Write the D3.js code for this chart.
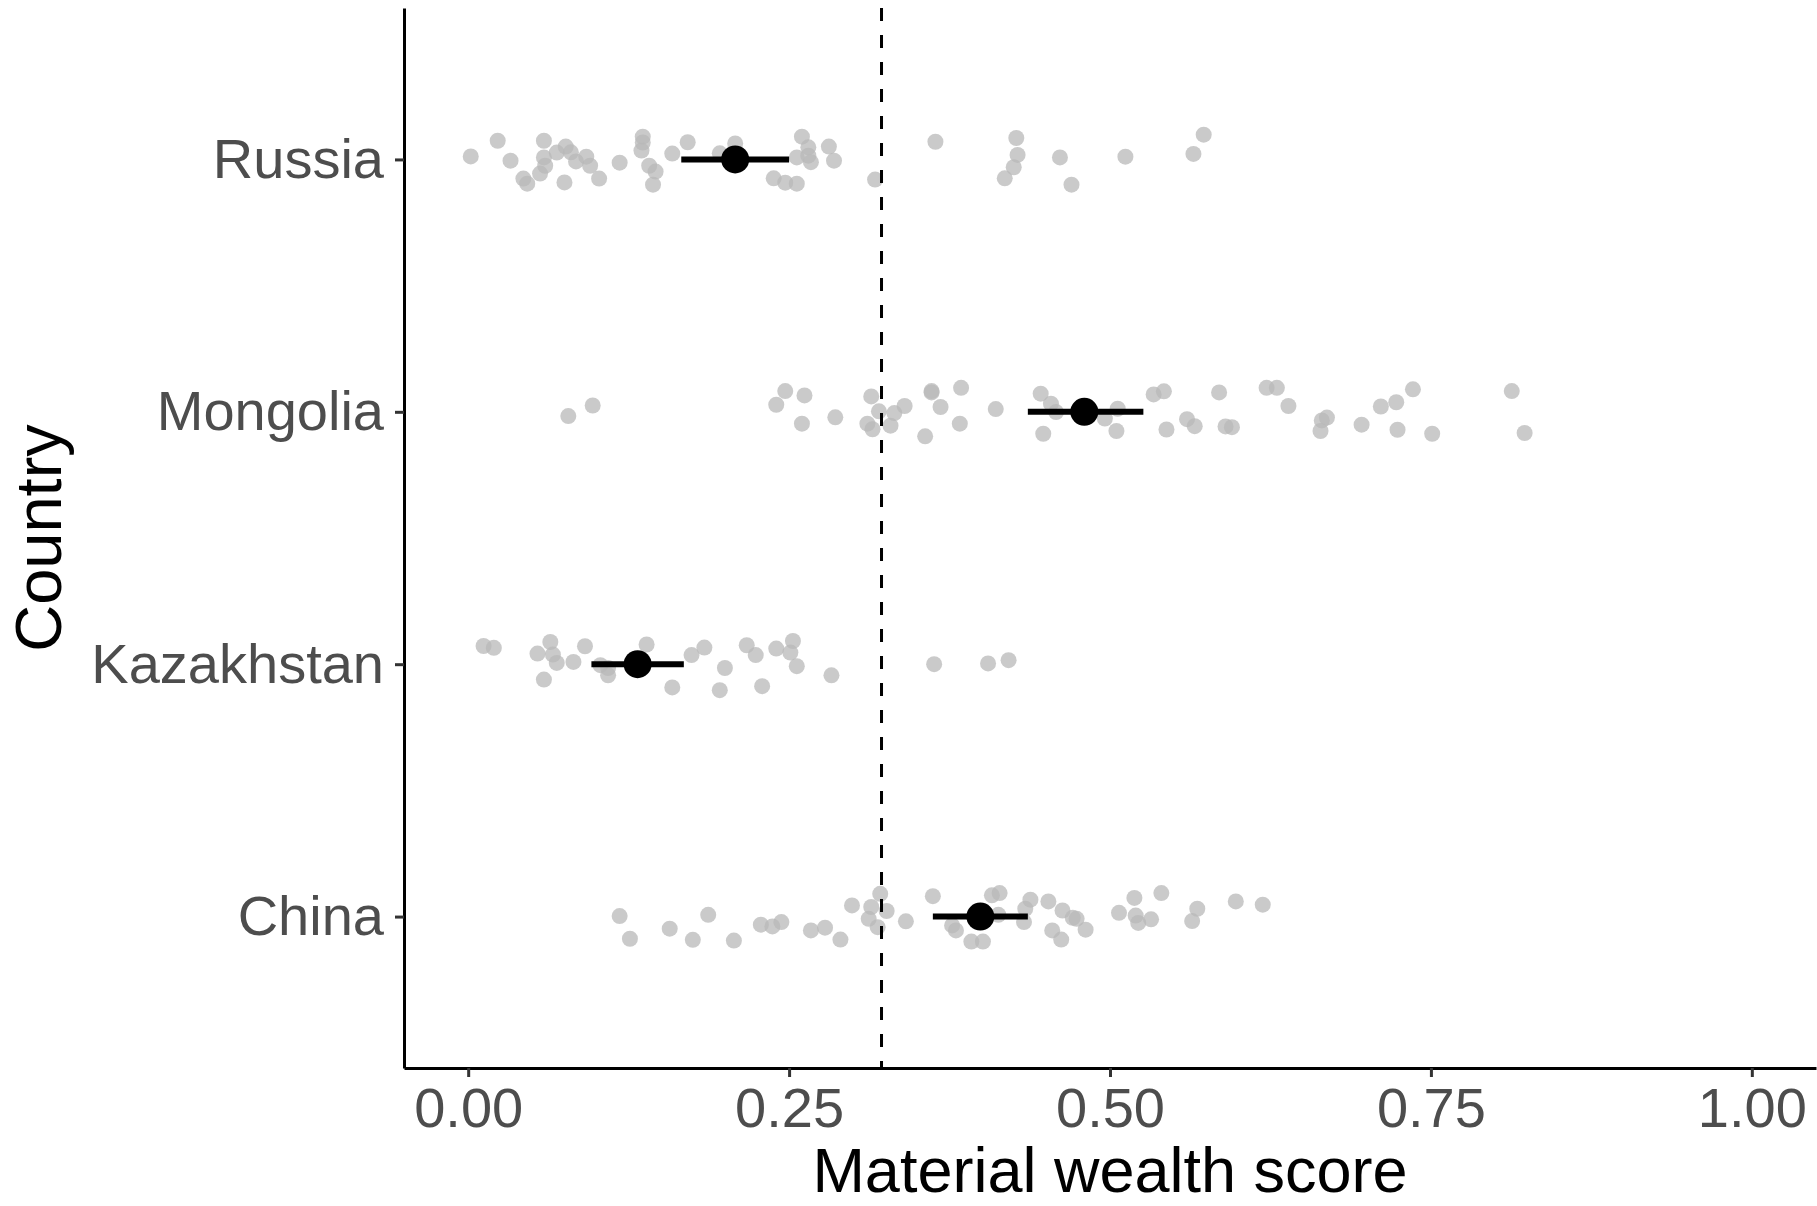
<!DOCTYPE html>
<html>
<head>
<meta charset="utf-8">
<script src="https://cdn.jsdelivr.net/npm/d3@7"></script>
<style>
  body { margin: 0; background: #fff; }
  text { font-family: "Liberation Sans", Arial, sans-serif; }
</style>
</head>
<body>
<div id="chart"></div>
<script>
// countries, bottom to top (China = 1 ... Russia = 4)
var countries = ["China", "Kazakhstan", "Mongolia", "Russia"];
var xTicks = [0, 0.25, 0.5, 0.75, 1];
var refLine = 0.322;

// group means and interval ends
var means  = [0.399, 0.132, 0.480, 0.208];
var lowers = [0.362, 0.096, 0.436, 0.166];
var uppers = [0.436, 0.168, 0.526, 0.250];

// individual scores per country, with the vertical jitter (category units)
var russiaScores = [0.002,0.023,0.033,0.059,0.059,0.069,0.076,0.080,0.060,0.056,0.043,0.046,0.075,0.084,0.092,0.095,0.102,0.118,0.136,0.136,0.135,0.141,0.146,0.144,0.159,0.171,0.196,0.208,0.260,0.265,0.256,0.265,0.267,0.281,0.285,0.238,0.247,0.256,0.317,0.364,0.427,0.428,0.425,0.418,0.461,0.470,0.512,0.565,0.573];
var russiaJitter = [0.012,0.074,-0.005,0.074,0.008,0.027,0.051,0.028,-0.025,-0.056,-0.076,-0.096,-0.091,-0.008,0.011,-0.025,-0.076,-0.013,0.090,0.067,0.035,-0.025,-0.048,-0.100,0.023,0.068,0.024,0.063,0.090,0.048,0.008,0.015,-0.011,0.051,-0.005,-0.075,-0.092,-0.096,-0.080,0.070,0.085,0.018,-0.031,-0.075,0.008,-0.100,0.011,0.022,0.098];

var mongoliaScores = [0.078,0.097,0.247,0.240,0.262,0.260,0.286,0.314,0.320,0.311,0.315,0.329,0.332,0.340,0.361,0.361,0.368,0.384,0.383,0.356,0.411,0.446,0.454,0.458,0.448,0.506,0.496,0.505,0.534,0.542,0.544,0.560,0.566,0.585,0.590,0.595,0.622,0.630,0.639,0.665,0.669,0.664,0.696,0.711,0.723,0.736,0.724,0.751,0.813,0.823];
var mongoliaJitter = [-0.017,0.025,0.082,0.028,0.065,-0.047,-0.022,0.061,0.002,-0.047,-0.069,-0.055,-0.005,0.023,0.082,0.077,0.019,0.095,-0.047,-0.097,0.011,0.072,0.032,-0.001,-0.087,0.012,-0.027,-0.076,0.069,0.081,-0.070,-0.029,-0.057,0.077,-0.058,-0.061,0.095,0.095,0.023,-0.034,-0.023,-0.076,-0.051,0.021,0.038,0.089,-0.071,-0.087,0.082,-0.084];

var kazakhstanScores = [0.012,0.020,0.054,0.064,0.066,0.069,0.082,0.059,0.091,0.103,0.109,0.109,0.139,0.174,0.184,0.159,0.200,0.196,0.217,0.224,0.229,0.240,0.253,0.251,0.256,0.283,0.363,0.405,0.421];
var kazakhstanJitter = [0.072,0.065,0.042,0.088,0.038,0.005,0.009,-0.061,0.071,-0.004,-0.015,-0.044,0.078,0.036,0.066,-0.092,-0.015,-0.103,0.075,0.036,-0.087,0.062,0.092,0.046,-0.008,-0.044,0.000,0.003,0.016];

var chinaScores = [0.118,0.126,0.157,0.175,0.187,0.207,0.228,0.237,0.244,0.267,0.278,0.290,0.299,0.314,0.312,0.319,0.321,0.326,0.341,0.362,0.377,0.380,0.392,0.401,0.408,0.414,0.413,0.433,0.434,0.438,0.452,0.463,0.455,0.462,0.471,0.474,0.481,0.507,0.519,0.520,0.522,0.532,0.540,0.568,0.564,0.598,0.619];
var chinaJitter = [0.002,-0.088,-0.048,-0.092,0.007,-0.095,-0.032,-0.039,-0.022,-0.055,-0.044,-0.091,0.044,0.038,-0.009,-0.042,0.090,0.022,-0.019,0.081,-0.035,-0.055,-0.099,-0.099,0.084,0.093,0.007,-0.022,0.031,0.067,0.060,0.024,-0.055,-0.091,-0.005,-0.009,-0.052,0.015,0.074,0.004,-0.025,-0.011,0.093,0.031,-0.018,0.060,0.047];

var W = 1817, H = 1206;
var svg = d3.select("#chart")
  .append("svg")
    .attr("width", W)
    .attr("height", H);

var x = d3.scaleLinear()
  .domain([-0.05, 1.05])
  .range([404, 1816]);

var y = d3.scaleLinear()
  .domain([0.4, 4.6])
  .range([1068, 8]);

// build point table
var groups = [
  {scores: chinaScores, jitter: chinaJitter, pos: 1},
  {scores: kazakhstanScores, jitter: kazakhstanJitter, pos: 2},
  {scores: mongoliaScores, jitter: mongoliaJitter, pos: 3},
  {scores: russiaScores, jitter: russiaJitter, pos: 4}
];
var points = [];
groups.forEach(function(g) {
  g.scores.forEach(function(s, i) {
    points.push({x: s, y: g.pos + g.jitter[i]});
  });
});

// jittered points
svg.append("g")
  .selectAll("circle")
  .data(points)
  .enter()
  .append("circle")
    .attr("cx", function(d) { return x(d.x); })
    .attr("cy", function(d) { return y(d.y); })
    .attr("r", 8)
    .style("fill", "#b8b8b8")
    .style("fill-opacity", 0.75);

// reference line
svg.append("line")
  .attr("x1", x(refLine)).attr("x2", x(refLine))
  .attr("y1", y(4.6)).attr("y2", y(0.4))
  .style("stroke", "#000")
  .style("stroke-width", 3)
  .style("stroke-dasharray", "13,14");

// interval bars
svg.append("g")
  .selectAll("line")
  .data(countries)
  .enter()
  .append("line")
    .attr("x1", function(d, i) { return x(lowers[i]); })
    .attr("x2", function(d, i) { return x(uppers[i]); })
    .attr("y1", function(d, i) { return y(i + 1); })
    .attr("y2", function(d, i) { return y(i + 1); })
    .style("stroke", "#000")
    .style("stroke-width", 6);

// means
svg.append("g")
  .selectAll("circle")
  .data(countries)
  .enter()
  .append("circle")
    .attr("cx", function(d, i) { return x(means[i]); })
    .attr("cy", function(d, i) { return y(i + 1); })
    .attr("r", 14)
    .style("fill", "#000");

// X axis
var xAxis = svg.append("g")
  .attr("transform", "translate(0,1068)")
  .call(d3.axisBottom(x)
    .tickValues(xTicks)
    .tickFormat(d3.format(".2f"))
    .tickSize(9)
    .tickSizeOuter(0)
    .tickPadding(10));

// Y axis
var yAxis = svg.append("g")
  .attr("transform", "translate(404,0)")
  .call(d3.axisLeft(y)
    .tickValues([1, 2, 3, 4])
    .tickFormat(function(d) { return countries[d - 1]; })
    .tickSize(9)
    .tickSizeOuter(0)
    .tickPadding(11));

[xAxis, yAxis].forEach(function(a) {
  a.select(".domain").style("stroke", "#000").style("stroke-width", 3);
  a.selectAll(".tick line").style("stroke", "#333").style("stroke-width", 3);
  a.selectAll(".tick text")
    .style("font-family", "'Liberation Sans', Arial, sans-serif")
    .style("font-size", "56px")
    .style("fill", "#4d4d4d");
});

// axis titles
svg.append("text")
  .attr("x", x(0.5))
  .attr("y", 1192)
  .attr("text-anchor", "middle")
  .style("font-size", "63px")
  .style("fill", "#000")
  .text("Material wealth score");

svg.append("text")
  .attr("transform", "translate(61," + y(2.5) + ") rotate(-90)")
  .attr("text-anchor", "middle")
  .style("font-size", "65px")
  .style("fill", "#000")
  .text("Country");
</script>
</body>
</html>
